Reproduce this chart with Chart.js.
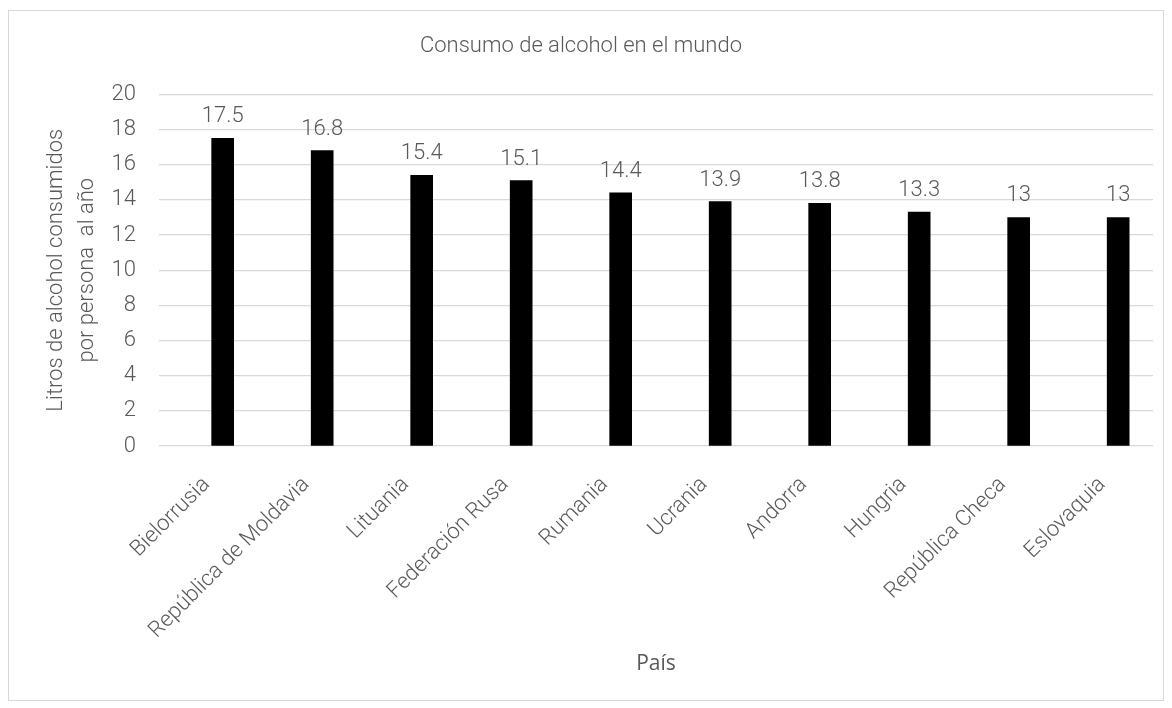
<!DOCTYPE html>
<html lang="es">
<head>
<meta charset="utf-8">
<title>Consumo de alcohol en el mundo</title>
<script src="https://cdn.jsdelivr.net/npm/chart.js@4/dist/chart.umd.min.js"></script>
<style>
    html, body { margin: 0; padding: 0; background: #fff; }
    #chart-wrap { position: relative; width: 1172px; height: 708px; }
</style>
</head>
<body>
<div id="chart-wrap">
    <canvas id="alcoholChart" width="1172" height="708"></canvas>
</div>
<script>
// Litros de alcohol por persona y año, diez países con mayor consumo
const paises = [
    'Bielorrusia', 'República de Moldavia', 'Lituania', 'Federación Rusa', 'Rumania',
    'Ucrania', 'Andorra', 'Hungria', 'República Checa', 'Eslovaquia'
];
const litros = [17.5, 16.8, 15.4, 15.1, 14.4, 13.9, 13.8, 13.3, 13, 13];
const ticksY = [0, 2, 4, 6, 8, 10, 12, 14, 16, 18, 20];

const TEXT = '#595959';
const GRID = '#d9d9d9';
const FONT = 'Roboto, "Liberation Sans", sans-serif';

// marco gris alrededor de todo el gráfico
const marco = {
    id: 'marco',
    beforeDraw(chart) {
        const ctx = chart.ctx;
        ctx.save();
        ctx.strokeStyle = GRID;
        ctx.lineWidth = 1;
        ctx.strokeRect(8.5, 10.5, 1155, 690);
        ctx.restore();
    }
};

// valor encima de cada barra
const etiquetas = {
    id: 'etiquetas',
    afterDatasetsDraw(chart) {
        const ctx = chart.ctx;
        const meta = chart.getDatasetMeta(0);
        ctx.save();
        ctx.font = '300 22px ' + FONT;
        ctx.fillStyle = TEXT;
        ctx.textAlign = 'center';
        ctx.textBaseline = 'alphabetic';
        meta.data.forEach((bar, i) => {
            ctx.fillText(String(litros[i]), bar.x, bar.y - 16);
        });
        ctx.restore();
    }
};

new Chart(document.getElementById('alcoholChart'), {
    type: 'bar',
    data: {
        datasets: [{
            data: litros.map((v, i) => ({ x: i, y: v })),
            backgroundColor: '#000000',
            borderWidth: 0,
            barThickness: 22
        }]
    },
    options: {
        responsive: false,
        animation: false,
        layout: { padding: { left: 9, right: 19, top: 11, bottom: 9 } },
        plugins: {
            legend: { display: false },
            tooltip: { enabled: false },
            title: {
                display: true,
                text: 'Consumo de alcohol en el mundo',
                color: TEXT,
                font: { family: FONT, size: 22, weight: '300', lineHeight: 1.2 },
                padding: { top: 22, bottom: 35 }
            }
        },
        scales: {
            x: {
                type: 'linear',
                offset: false,
                min: -0.64,
                max: 9.35,
                afterBuildTicks: (scale) => {
                    scale.ticks = paises.map((p, i) => ({ value: i }));
                },
                afterFit: (scale) => { scale.height = 253; },
                grid: { display: false, drawTicks: false },
                border: { display: false },
                ticks: {
                    autoSkip: false,
                    minRotation: 45,
                    maxRotation: 45,
                    padding: 26,
                    labelOffset: -16,
                    color: TEXT,
                    font: { family: FONT, size: 22, weight: '300' },
                    callback: (v) => paises[v]
                },
                title: {
                    display: true,
                    text: 'País',
                    color: TEXT,
                    font: { family: '"Open Sans", sans-serif', size: 21, lineHeight: 1.2 },
                    padding: { top: 0, bottom: 22 }
                }
            },
            y: {
                min: 0,
                max: 20,
                afterBuildTicks: (scale) => {
                    scale.ticks = ticksY.map(v => ({ value: v }));
                },
                afterFit: (scale) => { scale.width = 150; },
                grid: { color: GRID, lineWidth: 1.2, drawTicks: false },
                border: { display: false },
                ticks: {
                    padding: 23,
                    color: TEXT,
                    font: { family: FONT, size: 22, weight: '300' }
                },
                title: {
                    display: true,
                    text: ['Litros de alcohol consumidos', 'por persona  al año'],
                    color: TEXT,
                    font: { family: FONT, size: 22, weight: '300', lineHeight: 1.41 },
                    padding: { top: 32, bottom: 0 }
                }
            }
        }
    },
    plugins: [marco, etiquetas]
});
</script>
</body>
</html>
